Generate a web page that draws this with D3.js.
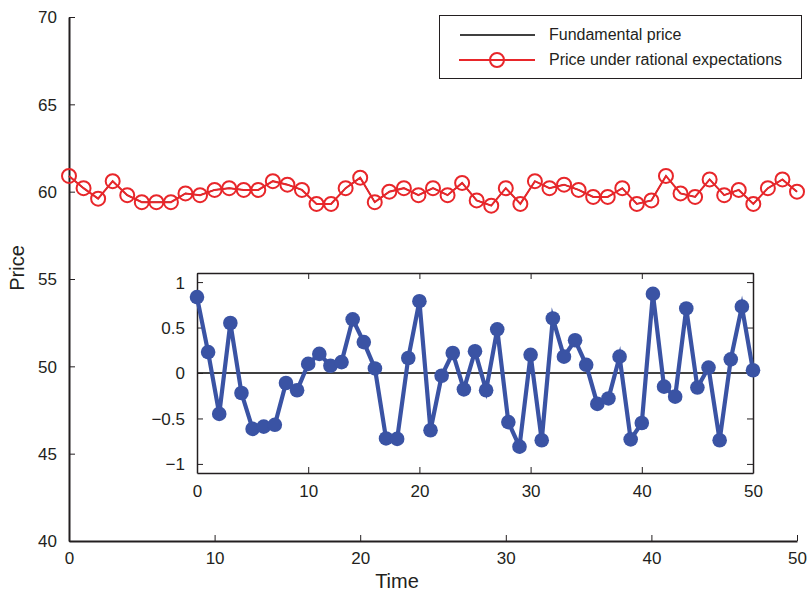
<!DOCTYPE html>
<html><head><meta charset="utf-8">
<script src="https://cdn.jsdelivr.net/npm/d3@7"></script>
<style>body{margin:0;background:#fff}svg{display:block}text{font-family:"Liberation Sans",Arial,sans-serif;fill:#231f20}</style>
</head><body>
<script>
const time = d3.range(0, 51);
const rationalPrice = [60.9,60.2,59.6,60.6,59.8,59.4,59.4,59.4,59.9,59.8,60.1,60.2,60.1,60.1,60.6,60.4,60.1,59.3,59.3,60.2,60.8,59.4,60.0,60.2,59.8,60.2,59.8,60.5,59.5,59.2,60.2,59.3,60.6,60.2,60.4,60.1,59.7,59.7,60.2,59.3,59.5,60.9,59.9,59.7,60.7,59.8,60.1,59.3,60.2,60.7,60.0];
const fundamentalPrice = rationalPrice.slice();
const deviation = [0.835,0.23,-0.45,0.55,-0.22,-0.615,-0.59,-0.57,-0.11,-0.19,0.10,0.21,0.08,0.12,0.59,0.34,0.05,-0.72,-0.725,0.165,0.79,-0.63,-0.03,0.22,-0.18,0.24,-0.19,0.48,-0.54,-0.81,0.20,-0.74,0.60,0.18,0.36,0.09,-0.34,-0.28,0.18,-0.73,-0.55,0.87,-0.15,-0.26,0.71,-0.16,0.06,-0.74,0.15,0.73,0.03];
const mainYTicks = [40,45,50,55,60,65,70];
const xTicks = [0,10,20,30,40,50];
const insetYTicks = [-1,-0.5,0,0.5,1];
const legendLabels = ["Fundamental price","Price under rational expectations"];

const W=809,H=591;
const svg=d3.select("body").append("svg").attr("width",W).attr("height",H);
const x=d3.scaleLinear().domain([0,50]).range([69,797]);
const y=d3.scaleLinear().domain([40,70]).range([541,17]);

// main axes
const gx=svg.append("g").attr("transform","translate(0,541)")
 .call(d3.axisBottom(x).tickValues(xTicks).tickSizeInner(-6).tickSizeOuter(0).tickPadding(11));
const gy=svg.append("g").attr("transform","translate(69,0)")
 .call(d3.axisLeft(y).tickValues(mainYTicks).tickSizeInner(-6).tickSizeOuter(0).tickPadding(12));
[gx,gy].forEach(g=>{g.select(".domain").attr("stroke","#231f20").attr("stroke-width",2);
 g.selectAll(".tick line").attr("stroke","#231f20").attr("stroke-width",1);
 g.selectAll("text").attr("font-size",17).attr("font-family","Liberation Sans, Arial").attr("fill","#231f20");});
gy.selectAll(".tick text").attr("dy","0.35em");
svg.append("text").attr("x",397).attr("y",588).attr("text-anchor","middle").attr("font-size",20).text("Time");
svg.append("text").attr("transform","translate(24,268) rotate(-90)").attr("text-anchor","middle").attr("font-size",20).text("Price");

// main lines
const line=d3.line().x((d,i)=>x(time[i])).y(d=>y(d));
svg.append("path").datum(fundamentalPrice).attr("d",line).attr("fill","none").attr("stroke","#000").attr("stroke-width",1.2);
svg.append("path").datum(rationalPrice).attr("d",line).attr("fill","none").attr("stroke","#e8262a").attr("stroke-width",2);
svg.append("g").selectAll("circle").data(rationalPrice).join("circle")
 .attr("cx",(d,i)=>x(time[i])).attr("cy",d=>y(d)).attr("r",7).attr("fill","none").attr("stroke","#e8262a").attr("stroke-width",2);

// legend
const lg=svg.append("g");
lg.append("rect").attr("x",439.5).attr("y",15.5).attr("width",362).attr("height",63).attr("fill","#fff").attr("stroke","#231f20").attr("stroke-width",1);
lg.append("line").attr("x1",460).attr("x2",535).attr("y1",35).attr("y2",35).attr("stroke","#000").attr("stroke-width",1.5);
lg.append("line").attr("x1",459).attr("x2",535).attr("y1",60).attr("y2",60).attr("stroke","#e8262a").attr("stroke-width",2);
lg.append("circle").attr("cx",497).attr("cy",60).attr("r",7).attr("fill","none").attr("stroke","#e8262a").attr("stroke-width",2);
lg.selectAll("text.l").data(legendLabels).join("text").attr("class","l").attr("x",549).attr("y",(d,i)=>40+i*25).attr("font-size",16).text(d=>d);

// inset
const ix=d3.scaleLinear().domain([0,50]).range([197,753]);
const iy=d3.scaleLinear().domain([-1.1,1.1]).range([473,273]);
const ig=svg.append("g");
ig.append("rect").attr("x",197).attr("y",273).attr("width",556).attr("height",200).attr("fill","#fff");
ig.append("line").attr("x1",197).attr("x2",753).attr("y1",iy(0)).attr("y2",iy(0)).attr("stroke","#000").attr("stroke-width",1.3);
const ib=ig.append("g").attr("transform","translate(0,473)").call(d3.axisBottom(ix).tickValues(xTicks).tickSizeInner(-6).tickSizeOuter(0).tickPadding(12));
const it=ig.append("g").attr("transform","translate(0,273)").call(d3.axisTop(ix).tickValues(xTicks).tickSizeInner(-6).tickSizeOuter(0).tickFormat(""));
const il=ig.append("g").attr("transform","translate(197,0)").call(d3.axisLeft(iy).tickValues(insetYTicks).tickSizeInner(-6).tickSizeOuter(0).tickPadding(12).tickFormat(d=>d===0?"0":(d<0?"\u2212":"")+Math.abs(d)));
const ir=ig.append("g").attr("transform","translate(753,0)").call(d3.axisRight(iy).tickValues(insetYTicks).tickSizeInner(-6).tickSizeOuter(0).tickFormat(""));
[ib,it,il,ir].forEach(g=>{g.select(".domain").attr("stroke","#231f20").attr("stroke-width",1.5);
 g.selectAll(".tick line").attr("stroke","#231f20").attr("stroke-width",1);
 g.selectAll("text").attr("font-size",17).attr("font-family","Liberation Sans, Arial").attr("fill","#231f20");});
il.selectAll(".tick text").attr("dy","0.35em");
const iline=d3.line().x((d,i)=>ix(time[i])).y(d=>iy(d));
ig.append("path").datum(deviation).attr("d",iline).attr("fill","none").attr("stroke","#3a53a4").attr("stroke-width",4.2).attr("stroke-linejoin","miter").attr("stroke-miterlimit",6);
ig.append("g").selectAll("circle").data(deviation).join("circle")
 .attr("cx",(d,i)=>ix(time[i])).attr("cy",d=>iy(d)).attr("r",7.3).attr("fill","#3a53a4");
</script>
</body></html>
